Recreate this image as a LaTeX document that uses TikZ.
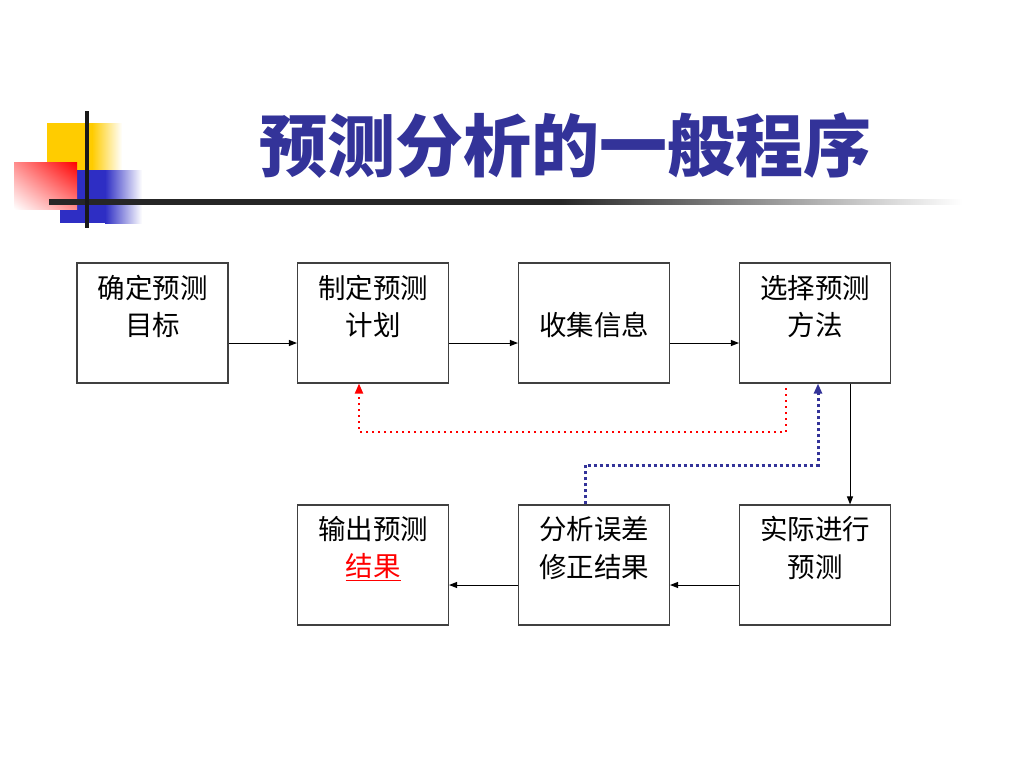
\documentclass[tikz,border=0pt]{standalone}
\usepackage{fontspec}
\setmainfont{Noto Sans CJK SC}
\usetikzlibrary{arrows.meta,shadings}
\definecolor{navy}{HTML}{333399}
\definecolor{boxline}{HTML}{404040}
\definecolor{deco yellow}{HTML}{FFCC00}
\definecolor{deco blue}{HTML}{2E2EC4}
\begin{document}
\begin{tikzpicture}[x=1pt,y=-1pt,
  box/.style={draw=boxline, line width=1.1pt, minimum width=151pt, minimum height=120pt, inner sep=0pt},
  label text/.style={font=\fontsize{27.5}{30}\selectfont, inner sep=0pt, anchor=center},
  flow/.style={draw=black, line width=1pt, -{Triangle[length=8pt,width=6pt]}},
  redloop/.style={draw=red, line width=2pt, dash pattern=on 2pt off 4pt, -{Triangle[length=10pt,width=8pt]}},
  blueloop/.style={draw=navy, line width=3pt, dash pattern=on 3pt off 3pt, -{Triangle[length=10pt,width=8pt]}},
]
\useasboundingbox (0,0) rectangle (1024,768);
\fill[white] (0,0) rectangle (1024,768);

% decoration
\fill[deco yellow] (47,123) rectangle (92,170);
\shade[left color=deco yellow, right color=white] (92,123) rectangle (122,170);
\fill[deco blue] (60,170) rectangle (105,223);
\shade[left color=deco blue, right color=white] (105,170) rectangle (142,223);
\shade[upper left=red!45!white, upper right=red, lower left=white, lower right=red!45!white] (14,162) rectangle (77,209);
\shade[left color=black!85, right color=black!85] (49,199) rectangle (560,204);
\shade[left color=black!85, right color=white] (559,199) rectangle (962,204);
\fill[black!90] (85,111) rectangle (89,228);

% title
\node[font=\fontsize{68}{72}\selectfont\bfseries, text=navy, inner sep=0pt] (title) at (565,146) {预测分析的一般程序};

% boxes
\node[box] (b1) at (152.5,323) {};
\node[box] (b2) at (373,323) {};
\node[box] (b3) at (594,323) {};
\node[box] (b4) at (815,323) {};
\node[box] (b5) at (373,565) {};
\node[box] (b6) at (594,565) {};
\node[box] (b7) at (815,565) {};

% texts
\node[label text] (t1a) at (152.5,288) {确定预测};
\node[label text] (t1b) at (152.5,325) {目标};
\node[label text] (t2a) at (373,288) {制定预测};
\node[label text] (t2b) at (373,325) {计划};
\node[label text] (t3) at (594,325) {收集信息};
\node[label text] (t4a) at (815,288) {选择预测};
\node[label text] (t4b) at (815,325) {方法};
\node[label text] (t5a) at (373,529) {输出预测};
\node[label text, text=red] (t5b) at (373,567) {\underline{结果}};
\node[label text] (t6a) at (594,529) {分析误差};
\node[label text] (t6b) at (594,567) {修正结果};
\node[label text] (t7a) at (815,529) {实际进行};
\node[label text] (t7b) at (815,567) {预测};

% flow arrows
\draw[flow] ([yshift=-20pt]b1.east) -- ([yshift=-20pt]b2.west);
\draw[flow] ([yshift=-20pt]b2.east) -- ([yshift=-20pt]b3.west);
\draw[flow] ([yshift=-20pt]b3.east) -- ([yshift=-20pt]b4.west);
\draw[flow] ([xshift=35pt]b4.south) -- ([xshift=35pt]b7.north);
\draw[flow] ([yshift=-20pt]b7.west) -- ([yshift=-20pt]b6.east);
\draw[flow] ([yshift=-20pt]b6.west) -- ([yshift=-20pt]b5.east);

% feedback loops
\coordinate (rs) at (786,388);
\draw[redloop] (rs) -- (786,432) -- (359,432) -- ([xshift=-14pt]b2.south);
\draw[blueloop] ([xshift=-9pt]b6.north) -- (585,465) -- (818,465) -- ([xshift=3pt]b4.south);
\end{tikzpicture}
\end{document}
